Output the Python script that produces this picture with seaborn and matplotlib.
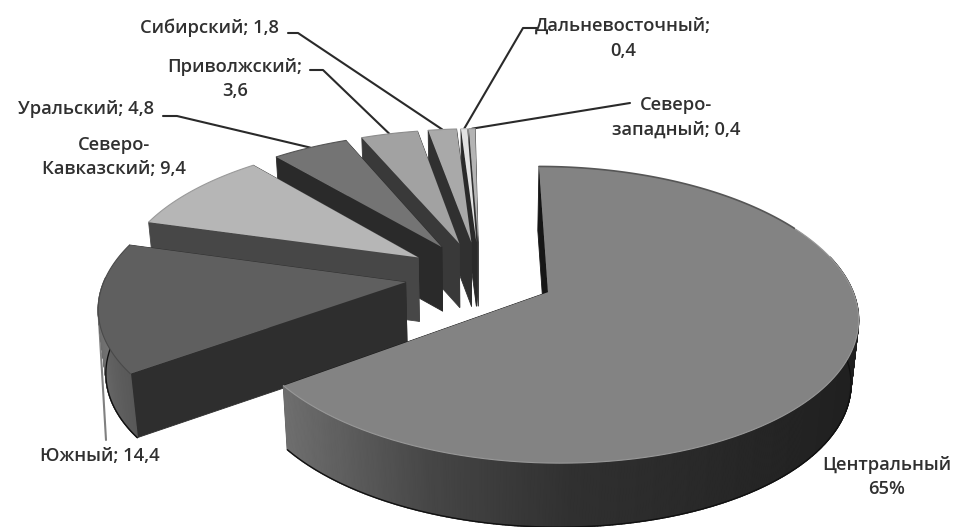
import numpy as np
import matplotlib
matplotlib.use("Agg")
import matplotlib.pyplot as plt
from matplotlib.collections import PolyCollection
import seaborn as sns

# Share of each federal district, clockwise from twelve o'clock
districts = ["Центральный", "Южный", "Северо-Кавказский", "Уральский",
             "Приволжский", "Сибирский", "Дальневосточный", "Северо-западный"]
shares = [65, 14.4, 9.4, 4.8, 3.6, 1.8, 0.4, 0.4]
labels = ["Центральный\n65%", "Южный; 14,4", "Северо-\nКавказский; 9,4", "Уральский; 4,8",
          "Приволжский;\n3,6", "Сибирский; 1,8", "Дальневосточный;\n0,4", "Северо-\nзападный; 0,4"]
top_colors = ["#838383", "#5f5f5f", "#b6b6b6", "#747474", "#a2a2a2", "#a9a9a9", "#e2e2e2", "#b4b4b4"]
face_colors = ["#161616", "#2e2e2e", "#474747", "#2a2a2a", "#393939", "#303030", "#2a2a2a", "#333333"]
rim_colors = ["#989898", "#4a4a4a", "#9a9a9a", "#555555", "#8c8c8c", "#909090", "#c0c0c0", "#909090"]

# Projection of the tilted disc onto the canvas
CX, CY, RX, RY, PERSP = 480.0, 276.0, 300.0, 140.0, 0.15
EXPLODE, DEPTH, CONVERGE = 0.25, 64.0, 0.98

sns.set_theme(style="white")
plt.rcParams["font.family"] = ["Open Sans", "DejaVu Sans"]
TEXT_COLOR = "#303030"


def project(x, y):
    s = 1.0 / (1.0 + PERSP * y)
    return np.column_stack([CX + RX * x * s, CY - RY * y * s])


def drop(pts):
    out = pts.copy()
    out[:, 0] = CX + (out[:, 0] - CX) * CONVERGE
    out[:, 1] += DEPTH
    return out


def wedge_point(a0, a1, ang, r=1.0):
    mid = np.radians((a0 + a1) / 2)
    ang = np.radians(ang)
    return (EXPLODE * np.sin(mid) + r * np.sin(ang),
            EXPLODE * np.cos(mid) + r * np.cos(ang))


fig = plt.figure(figsize=(9.55, 5.27), dpi=100)
ax = fig.add_axes([0, 0, 1, 1])
ax.set_xlim(0, 955)
ax.set_ylim(527, 0)
ax.axis("off")

edges = np.concatenate([[0], np.cumsum(shares)]) * 3.6
wedges = list(zip(edges[:-1], edges[1:]))

side_ramp = sns.blend_palette(["#1f1f1f", "#282828", "#303030", "#464646", "#6e6e6e"], n_colors=256)
south_ramp = sns.blend_palette(["#585858", "#6e6e6e", "#7c7c7c"], n_colors=256)

# Far slices first so the nearer ones paint over them
for i in range(len(shares) - 1, -1, -1):
    a0, a1 = wedges[i]
    z = 10 + (len(shares) - i) * 2
    arc_ang = np.linspace(a0, a1, max(int((a1 - a0) * 2) + 2, 3))
    ax_, ay_ = wedge_point(a0, a1, arc_ang)
    arc = project(ax_, ay_)
    apex = project(*[np.array([v]) for v in wedge_point(a0, a1, a0, 0.0)])

    # Flat radial walls, closing edge first
    for end in (arc[-1:], arc[:1]):
        edge = np.vstack([apex, end])
        ax.fill(*np.vstack([edge, drop(edge)[::-1]]).T, color=face_colors[i], lw=0.6, zorder=z)

    # Curved outer wall, only the part that faces the viewer, shaded facet by facet
    front = (arc_ang >= 75) & (arc_ang <= 272)
    if front.any():
        span = arc[front]
        low = drop(span)
        ax.fill(*np.vstack([span, low[::-1]]).T, color="#222222", lw=0, zorder=z)
        facets = [np.array([span[j], span[j + 1], low[j + 1], low[j]]) for j in range(len(span) - 1)]
        if i == 0:
            pos = (span[:-1, 0] - 285) / (860 - 285)
            ramp = [side_ramp[::-1][int(np.clip(p, 0, 1) * 255)] for p in pos]
        else:
            pos = (span[:-1, 1] - 240) / (375 - 240)
            ramp = [south_ramp[int(np.clip(1 - p, 0, 1) * 255)] for p in pos]
        ax.add_collection(PolyCollection(facets, facecolors=ramp, edgecolors=ramp, linewidths=1.0, zorder=z))
        ax.plot(*low.T, color="#111111", lw=1.0, zorder=z)

    # Top surface and its rim
    ax.fill(*np.vstack([apex, arc]).T, color=top_colors[i], lw=0, zorder=z + 1)
    if i == 0:
        split = np.searchsorted(arc_ang, 62)
        ax.plot(*arc[:split].T, color="#565656", lw=1.2, zorder=z + 1)
        ax.plot(*arc[split:].T, color=rim_colors[i], lw=0.8, zorder=z + 1)
    else:
        ax.plot(*arc.T, color=rim_colors[i], lw=0.8, zorder=z + 1)

# Label text: centre of each block
text_pos = [(887, 477), (100, 456), (114, 157), (86, 109), (235, 79), (209, 28), (623, 38), (676, 117)]
for (tx, ty), lab in zip(text_pos, labels):
    ax.text(tx, ty, lab, ha="center", va="center", fontsize=13.2, fontweight=600, color=TEXT_COLOR,
            linespacing=1.5, zorder=40)

# Leader lines: start at the label, optional elbow, end at the slice rim
leaders = {1: [(106, 440)], 3: [(163, 116), (177, 116)], 4: [(310, 70), (323, 70)],
           5: [(288, 33), (298, 33)], 6: [(537, 28), (523, 28)], 7: [(630, 103)]}
for i, pts in leaders.items():
    a0, a1 = wedges[i]
    tip = project(*[np.array([v]) for v in wedge_point(a0, a1, (a0 + a1) / 2)])[0]
    path = np.array(pts + [tuple(tip)])
    ax.plot(*path.T, color="#808080" if i == 1 else "#2a2a2a", lw=1.5, zorder=5)

fig.savefig("out.png", dpi=100, facecolor="white")
